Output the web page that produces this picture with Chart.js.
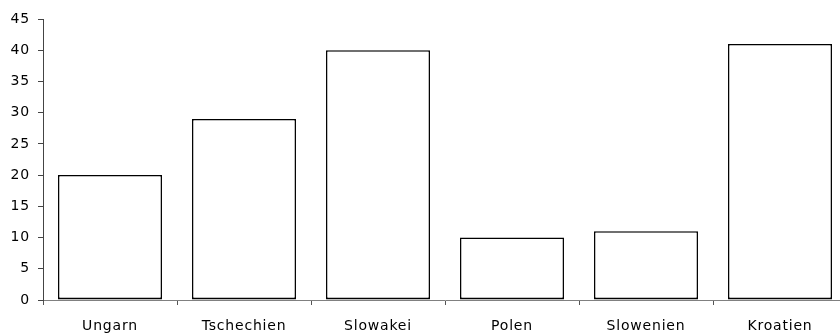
<!DOCTYPE html>
<html>
<head>
<meta charset="utf-8">
<script src="https://cdn.jsdelivr.net/npm/chart.js@4"></script>
<style>
html,body{margin:0;padding:0;background:#fff;overflow:hidden;}
canvas{display:block;}
</style>
</head>
<body>
<canvas id="c" width="848" height="333"></canvas>
<script>
const categories = ["Ungarn", "Tschechien", "Slowakei", "Polen", "Slowenien", "Kroatien"];
const values = [20, 29, 40, 10, 11, 41];
const yMin = 0, yMax = 45, yStep = 5;

const font = { family: 'DejaVu Sans', size: 14 };

const spacing = {
  id: 'spacing',
  beforeDraw(chart) { chart.ctx.letterSpacing = '0.8px'; }
};

new Chart(document.getElementById('c'), {
  type: 'bar',
  data: {
    labels: categories,
    datasets: [{
      data: values,
      backgroundColor: '#ffffff',
      borderColor: '#000000',
      borderWidth: { top: 1.5, left: 1.5, right: 1.5, bottom: 2 },
      borderSkipped: false,
      categoryPercentage: 1,
      barPercentage: 0.776
    }]
  },
  plugins: [spacing],
  options: {
    responsive: false,
    animation: false,
    devicePixelRatio: 1,
    layout: { padding: { top: 19, right: 1, left: 0, bottom: 0 } },
    plugins: { legend: { display: false }, tooltip: { enabled: false } },
    scales: {
      x: {
        offset: true,
        grid: { display: true, offset: true, drawOnChartArea: false, drawTicks: true, tickLength: 5, color: '#555555', lineWidth: 1 },
        border: { display: true, color: '#808080', width: 1 },
        ticks: { color: '#000', font: font, padding: 13, maxRotation: 0, autoSkip: false },
        afterFit: s => { s.height = 33; }
      },
      y: {
        min: yMin, max: yMax,
        grid: { display: true, drawOnChartArea: false, drawTicks: true, tickLength: 5, color: '#444444', lineWidth: 1 },
        border: { display: true, color: '#444444', width: 1 },
        ticks: { stepSize: yStep, color: '#000', font: font, padding: 8 },
        afterFit: s => { s.width = 43; }
      }
    }
  }
});
</script>
</body>
</html>
